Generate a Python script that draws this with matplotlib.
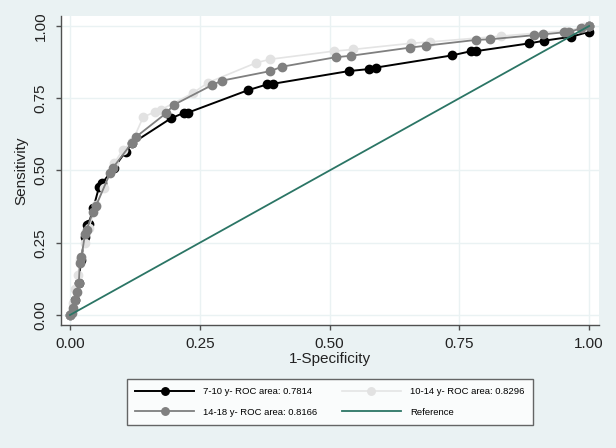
import matplotlib
matplotlib.use("Agg")
import matplotlib.pyplot as plt

plt.rcParams['font.family'] = ['Liberation Sans', 'DejaVu Sans']

# ---- data ----
fpr_7_10 = [0, 0.01, 0.017, 0.021, 0.029, 0.033, 0.036, 0.045, 0.056, 0.062,
            0.085, 0.107, 0.12, 0.194, 0.22, 0.227, 0.343, 0.38, 0.391, 0.537, 0.576, 0.589,
            0.735, 0.773, 0.782, 0.885, 0.913, 0.966, 1.0, 1.0]
tpr_7_10 = [0, 0.052, 0.11, 0.19, 0.27, 0.31, 0.315, 0.37, 0.443, 0.456,
            0.51, 0.565, 0.594, 0.68, 0.70, 0.70, 0.778, 0.798, 0.80, 0.844, 0.851, 0.856,
            0.898, 0.913, 0.913, 0.94, 0.949, 0.963, 0.98, 1.0]

fpr_10_14 = [0, 0.005, 0.01, 0.015, 0.02, 0.028, 0.036, 0.05, 0.065, 0.085, 0.102, 0.12, 0.141,
             0.164, 0.175, 0.236, 0.266, 0.359, 0.386, 0.508, 0.546, 0.656, 0.694, 0.83, 0.955,
             0.99, 1.0]
tpr_10_14 = [0, 0.04, 0.09, 0.14, 0.19, 0.25, 0.30, 0.38, 0.44, 0.525, 0.571, 0.60, 0.685,
             0.703, 0.71, 0.767, 0.804, 0.873, 0.885, 0.913, 0.919, 0.94, 0.945, 0.965, 0.984,
             0.995, 1.0]

fpr_14_18 = [0, 0.004, 0.006, 0.01, 0.013, 0.017, 0.019, 0.022, 0.029, 0.032, 0.044, 0.05, 0.077,
             0.083, 0.119, 0.127, 0.185, 0.2, 0.274, 0.293, 0.386, 0.408, 0.512, 0.541, 0.654,
             0.686, 0.783, 0.809, 0.893, 0.911, 0.951, 0.961, 0.985, 1.0]
tpr_14_18 = [0, 0.007, 0.023, 0.052, 0.08, 0.11, 0.18, 0.2, 0.28, 0.294, 0.356, 0.377, 0.49,
             0.51, 0.595, 0.616, 0.698, 0.727, 0.796, 0.811, 0.844, 0.859, 0.892, 0.897, 0.925,
             0.932, 0.952, 0.954, 0.968, 0.971, 0.978, 0.979, 0.992, 1.0]

ref_x = [0, 1]
ref_y = [0, 1]

labels = ["7-10 y- ROC area: 0.7814", "10-14 y- ROC area: 0.8296",
          "14-18 y- ROC area: 0.8166", "Reference"]
ticks = [0, 0.25, 0.5, 0.75, 1.0]
tick_labels = ["0.00", "0.25", "0.50", "0.75", "1.00"]

# ---- figure ----
bg = '#eaf2f3'
fig = plt.figure(figsize=(6.16, 4.48), dpi=100, facecolor=bg)
ax = fig.add_axes([61/616, 1-325/448, (599-61)/616, (325-16)/448])
ax.set_facecolor('white')

l1, = ax.plot(fpr_7_10, tpr_7_10, color='black', lw=1.4, marker='o', ms=6,
              mfc='black', mec='black', zorder=3)
l2, = ax.plot(fpr_10_14, tpr_10_14, color='#e4e4e4', lw=1.2, marker='o', ms=6,
              mfc='#e2e2e2', mec='#e2e2e2', zorder=4)
l3, = ax.plot(fpr_14_18, tpr_14_18, color='#7f7f7f', lw=1.3, marker='o', ms=6,
              mfc='#808080', mec='#808080', zorder=5)
l4, = ax.plot(ref_x, ref_y, color='#2b7565', lw=1.3, zorder=6)

ax.set_xlim(-0.0173, 1.019)
ax.set_ylim(-0.0346, 1.0346)
ax.set_xticks(ticks)
ax.set_xticklabels(tick_labels)
ax.set_yticks(ticks)
ax.set_yticklabels(tick_labels, rotation=90, va='center')
ax.grid(True, color=bg, lw=1.0, zorder=0)
ax.set_axisbelow(True)

for s in ['top', 'right']:
    ax.spines[s].set_visible(False)
for s in ['left', 'bottom']:
    ax.spines[s].set_color('#505050')
    ax.spines[s].set_linewidth(1.0)
ax.tick_params(axis='both', direction='out', length=3.5, width=1.0, color='#505050',
               labelsize=11, labelcolor='#222222')
ax.tick_params(axis='y', pad=6)
ax.tick_params(axis='x', pad=5)

ax.set_xlabel("1-Specificity", fontsize=11, color='#222222', labelpad=1)
ax.set_ylabel("Sensitivity", fontsize=11, color='#222222', labelpad=4)

leg = fig.legend([l1, l3, l2, l4], [labels[0], labels[2], labels[1], labels[3]],
                 ncol=2, loc='center', bbox_to_anchor=(330/616, 1-402/448),
                 fontsize=6.8, frameon=True, fancybox=False, edgecolor='#404040',
                 handlelength=6.2, handletextpad=1.0, columnspacing=2.6,
                 labelspacing=1.2, borderpad=0.9, markerscale=0.9)
leg.get_frame().set_linewidth(1.0)
leg.get_frame().set_facecolor('white')

fig.savefig("out.png", dpi=100, facecolor=bg)
